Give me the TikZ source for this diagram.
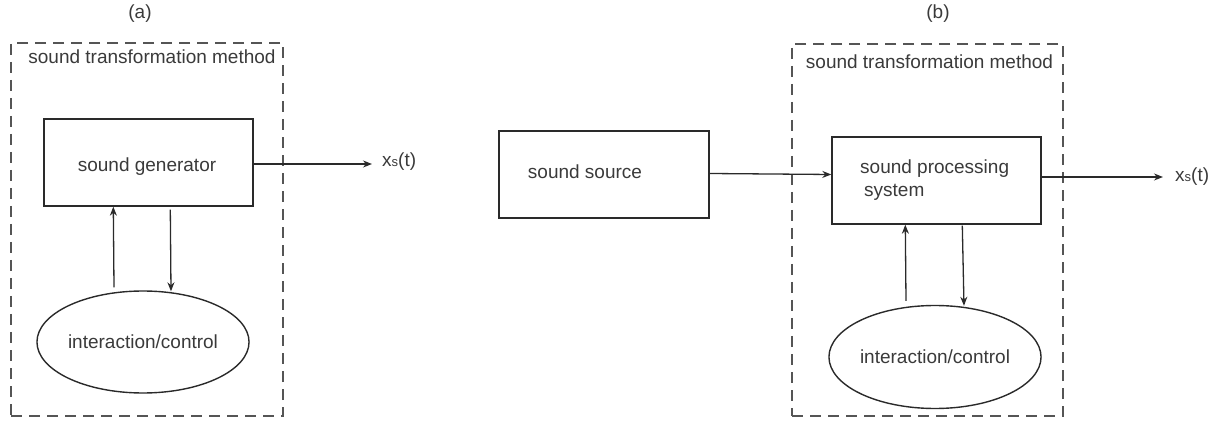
\documentclass[tikz,border=0pt]{standalone}
\usepackage{fontspec}
\setmainfont{Liberation Sans}
\usetikzlibrary{shapes.geometric,arrows.meta}
\definecolor{txt}{HTML}{3A3A3A}
\definecolor{ln}{HTML}{2A2A2A}
\definecolor{dsh}{HTML}{555555}
\tikzset{
  lbl/.style={text=txt,font=\fontsize{19pt}{23pt}\selectfont,inner sep=0pt},
  blockbox/.style={draw=ln,line width=1.4pt,rectangle,inner sep=0pt},
  ctrlell/.style={draw=ln,line width=1.4pt,ellipse,inner sep=0pt,text=txt,font=\fontsize{19pt}{23pt}\selectfont},
  dashbox/.style={draw=dsh,line width=1.5pt,dash pattern=on 11pt off 7pt,rectangle,inner sep=0pt},
  arr/.style={draw=ln,line width=1.3pt,-{Stealth[length=9pt,width=7pt]}}
}
\newcommand{\xsig}{x{\fontsize{13pt}{13pt}\selectfont s}(t)}
\begin{document}
\begin{tikzpicture}[x=1pt,y=-1pt]
\useasboundingbox (0,0) rectangle (1215,435);
% (a)
\node[lbl] (capA) at (140,14) {(a)};
\node[dashbox,minimum width=272pt,minimum height=373pt] (tmA) at (147,229.5) {};
\node[lbl] (titA) at (152,57) {sound transformation method};
\node[blockbox,minimum width=209pt,minimum height=87pt] (genA) at (148.5,162.5) {};
\node[lbl] (genAt) at (147,167) {sound generator};
\node[ctrlell,minimum width=210pt,minimum height=102pt] (ctrlA) at (143,342) {interaction/control};
\node[lbl,anchor=west] (xsA) at (382,162) {\xsig};
\draw[arr,shorten >=10pt] (genA.east |- 0,164) -- (xsA.west |- 0,164);
\draw[arr] ([xshift=-29pt,yshift=3pt]ctrlA.north) -- ([xshift=70pt]genA.south west);
\draw[arr] ([xshift=127pt,yshift=-3pt]genA.south west) -- ([xshift=28pt,yshift=-1pt]ctrlA.north);
% (b)
\node[lbl] (capB) at (938,14) {(b)};
\node[dashbox,minimum width=271pt,minimum height=372pt] (tmB) at (927.5,230) {};
\node[lbl] (titB) at (929.5,62) {sound transformation method};
\node[blockbox,minimum width=210pt,minimum height=87pt] (srcB) at (604,174.5) {};
\node[lbl] (srcBt) at (585,172) {sound source};
\node[blockbox,minimum width=209pt,minimum height=87pt] (procB) at (936.5,180.5) {};
\node[lbl,anchor=west,align=left] (procBt) at (860,180) {sound processing\\\hspace*{4pt}system};
\node[ctrlell,minimum width=207pt,minimum height=103pt] (ctrlB) at (935,357) {interaction/control};
\node[lbl,anchor=west] (xsB) at (1175,177) {\xsig};
\draw[arr] (srcB.east |- 0,173.5) -- (procB.west |- 0,174.5);
\draw[arr,shorten >=12pt] (procB.east |- 0,177) -- (xsB.west |- 0,177);
\draw[arr] ([xshift=-29pt,yshift=4pt]ctrlB.north) -- ([xshift=74pt]procB.south west);
\draw[arr] ([xshift=131pt,yshift=-1pt]procB.south west) -- ([xshift=29pt,yshift=-1pt]ctrlB.north);
\end{tikzpicture}
\end{document}
